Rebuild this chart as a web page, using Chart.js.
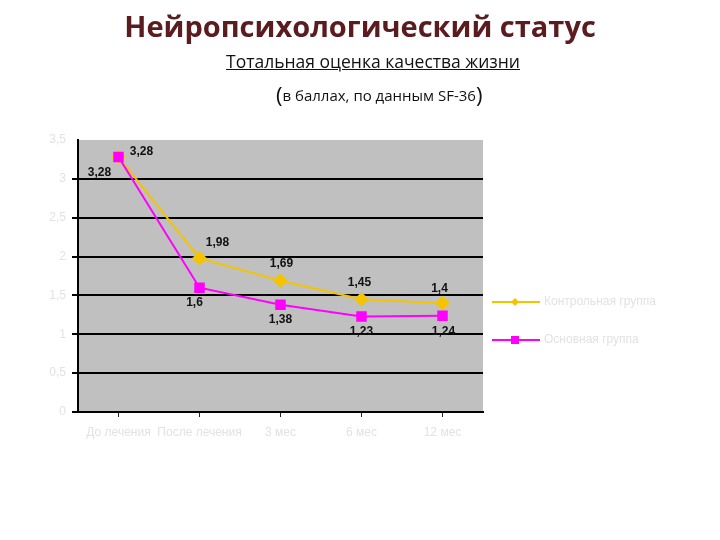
<!DOCTYPE html>
<html>
<head>
<meta charset="utf-8">
<script src="https://cdn.jsdelivr.net/npm/chart.js@4"></script>
<style>
  body { margin: 0; background: #fff; }
  #wrap { position: relative; width: 720px; height: 540px; }
  #titulo { position: absolute; left: 0; width: 720px; top: 6px; text-align: center;
    font: bold 29px "Open Sans", sans-serif; color: #5a1c1f; }
  #sub1 { position: absolute; left: 226px; top: 49px; font: 17.5px "Open Sans", sans-serif;
    color: #111; text-decoration: underline; }
  #sub2 { position: absolute; left: 276px; top: 79px; font: 15px "Open Sans", sans-serif; color: #111; }
  #sub2 span { font-size: 22px; vertical-align: -2px; }
  canvas { position: absolute; left: 0; top: 0; }
</style>
</head>
<body>
<div id="wrap">
  <canvas id="grafico" width="720" height="540"></canvas>
  <div id="titulo">Нейропсихологический статус</div>
  <div id="sub1">Тотальная оценка качества жизни</div>
  <div id="sub2"><span>(</span>в баллах, по данным SF-36<span>)</span></div>
</div>
<script>
// dados do gráfico
const periodos = ["До лечения", "После лечения", "3 мес", "6 мес", "12 мес"];
const grupoControle = [3.28, 1.98, 1.69, 1.45, 1.4];
const grupoPrincipal = [3.28, 1.6, 1.38, 1.23, 1.24];
const nomesGrupos = ["Контрольная группа", "Основная группа"];
const ticksY = ["0", "0,5", "1", "1,5", "2", "2,5", "3", "3,5"];

// deslocamento dos rótulos de valor (x, y) em pixels
const deslocControle = [[23, -5], [18, -15], [1, -17], [-2, -17], [-3, -15]];
const deslocPrincipal = [[-19, 16], [-5, 15], [0, 15], [0, 15], [1, 16]];

const fundoPlot = {
    id: "fundoPlot",
    beforeDraw(chart) {
        const a = chart.chartArea;
        const ctx = chart.ctx;
        ctx.save();
        ctx.fillStyle = "#c0c0c0";
        ctx.fillRect(a.left, a.top, a.right - a.left, a.bottom - a.top);
        ctx.restore();
    }
};

const rotulos = {
    id: "rotulos",
    afterDatasetsDraw(chart) {
        const ctx = chart.ctx;
        ctx.save();
        ctx.font = "bold 12px Arial, 'Liberation Sans', sans-serif";
        ctx.fillStyle = "#111";
        ctx.textAlign = "center";
        ctx.textBaseline = "middle";
        const desl = [deslocControle, deslocPrincipal];
        chart.data.datasets.forEach((ds, i) => {
            const meta = chart.getDatasetMeta(i);
            meta.data.forEach((p, j) => {
                const txt = String(ds.data[j]).replace(".", ",");
                ctx.fillText(txt, p.x + desl[i][j][0], p.y + desl[i][j][1]);
            });
        });
        ctx.restore();
    }
};

const legenda = {
    id: "legenda",
    afterDraw(chart) {
        const ctx = chart.ctx;
        const ys = [302, 340];
        ctx.save();
        chart.data.datasets.forEach((ds, i) => {
            const y = ys[i];
            ctx.strokeStyle = ds.borderColor;
            ctx.lineWidth = 2;
            ctx.beginPath();
            ctx.moveTo(492, y);
            ctx.lineTo(540, y);
            ctx.stroke();
            ctx.fillStyle = ds.backgroundColor;
            ctx.beginPath();
            if (i === 0) {
                ctx.moveTo(515, y - 4); ctx.lineTo(519, y); ctx.lineTo(515, y + 4); ctx.lineTo(511, y);
            } else {
                ctx.rect(511, y - 4, 8, 8);
            }
            ctx.fill();
            ctx.font = "12px Arial, 'Liberation Sans', sans-serif";
            ctx.fillStyle = "#e2e2e2";
            ctx.textBaseline = "middle";
            ctx.fillText(nomesGrupos[i], 544, y);
        });
        ctx.restore();
    }
};

new Chart(document.getElementById("grafico"), {
    type: "line",
    data: {
        labels: periodos,
        datasets: [{
            label: nomesGrupos[0],
            data: grupoControle,
            borderColor: "#f5c400",
            backgroundColor: "#f5c400",
            borderWidth: 2,
            pointStyle: "rectRot",
            pointRadius: 6,
            pointHoverRadius: 6,
            tension: 0,
            order: 1
        }, {
            label: nomesGrupos[1],
            data: grupoPrincipal,
            borderColor: "#ff00ff",
            backgroundColor: "#ff00ff",
            borderWidth: 2,
            pointStyle: "rect",
            pointRadius: 6,
            pointHoverRadius: 6,
            tension: 0,
            order: 0
        }]
    },
    options: {
        responsive: false,
        animation: false,
        events: [],
        layout: { padding: { left: 0, right: 237, top: 140, bottom: 98 } },
        plugins: { legend: { display: false }, tooltip: { enabled: false } },
        scales: {
            x: {
                offset: true,
                afterFit(s) { s.height = 30; },
                grid: { display: true, drawOnChartArea: false, color: "#222", tickLength: 5 },
                border: { color: "#000", width: 2 },
                ticks: {
                    color: "#e2e2e2",
                    font: { size: 12, family: "Arial" },
                    padding: 8,
                    maxRotation: 0,
                    minRotation: 0,
                    autoSkip: false
                }
            },
            y: {
                min: 0,
                max: 3.5,
                afterFit(s) { s.width = 78; },
                afterBuildTicks(s) { s.ticks = ticksY.map((t, i) => ({ value: i * 0.5 })); },
                grid: {
                    color: (c) => c.tick && c.tick.value === 3.5 ? "rgba(0,0,0,0)" : "#000",
                    lineWidth: 2,
                    tickLength: 6
                },
                border: { color: "#000", width: 2 },
                ticks: {
                    color: "#e2e2e2",
                    font: { size: 12, family: "Arial" },
                    padding: 6,
                    callback: (v, i) => ticksY[i]
                }
            }
        }
    },
    plugins: [fundoPlot, rotulos, legenda]
});
</script>
</body>
</html>
